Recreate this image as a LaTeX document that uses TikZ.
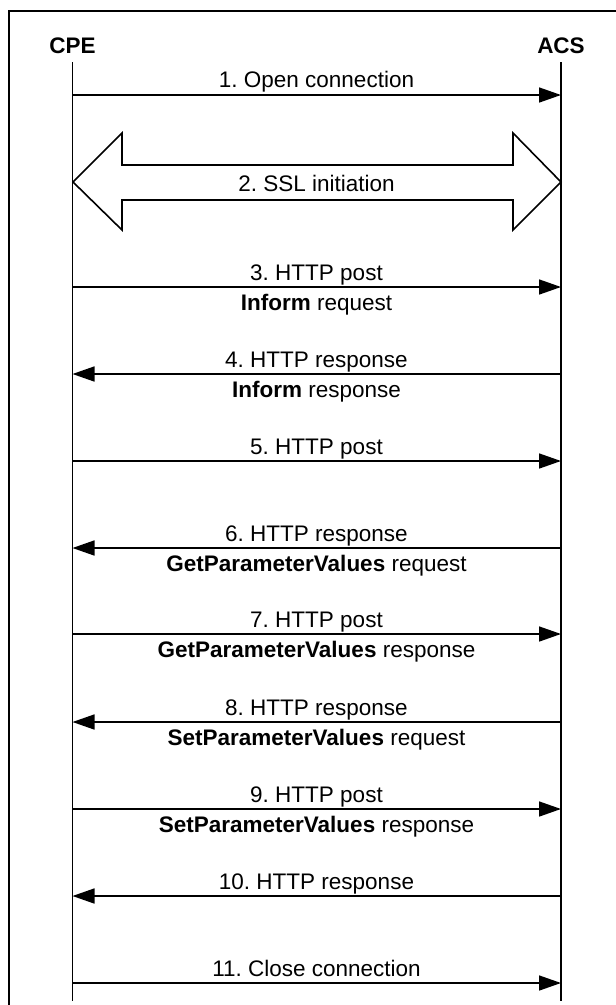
\documentclass[tikz,border=0pt]{standalone}
\usepackage{fontspec}
\setmainfont{Liberation Sans}
\usetikzlibrary{arrows.meta}
\frenchspacing
\begin{document}
\begin{tikzpicture}[x=1pt,y=-1pt,line width=1.6pt,
  lbl/.style={font=\fontsize{22.5}{25}\selectfont,inner sep=0pt,anchor=base},
  msg/.style={-{Triangle[length=22pt,width=15pt]},line width=1.6pt},
  life/.style={line width=1.6pt}]
\useasboundingbox (0,0) rectangle (616,1005);

% outer frame (top and left edges)
\draw[line width=1.8pt] (9,1010) -- (9,11) -- (620,11);

% participants and lifelines
\node[lbl] (cpe) at (72.5,53) {\textbf{CPE}};
\node[lbl] (acs) at (561,53) {\textbf{ACS}};
\coordinate (cpeTop) at (72.5,62);
\coordinate (cpeBot) at (72.5,1001);
\coordinate (acsTop) at (561,62);
\coordinate (acsBot) at (561,1001);
\draw[life] (cpeTop) -- (cpeBot);
\draw[life] (acsTop) -- (acsBot);

% message end points on the lifelines
\foreach \n/\y in {1/95,3/287,4/374,5/461,6/548,7/634,8/722,9/809,10/896,11/983}{
  \coordinate (c\n) at (72.5,\y);
  \coordinate (a\n) at (561,\y);
}

% 1
\draw[msg] (c1) -- (a1);
\node[lbl] (m1) at (316.5,87) {1. Open connection};

% 2: SSL initiation (block double arrow)
\draw[line width=1.6pt,line join=miter]
  (73,182) -- (122,133) -- (122,165) -- (513,165) -- (513,133) -- (561,182)
  -- (513,230) -- (513,200) -- (122,200) -- (122,230) -- cycle;
\node[lbl,anchor=center] (m2) at (316.5,183) {2. SSL initiation};

% 3
\draw[msg] (c3) -- (a3);
\node[lbl] (m3) at (316.5,280) {3. HTTP post};
\node[lbl] (m3b) at (316.5,310) {\textbf{Inform} request};

% 4
\draw[msg] (a4) -- (c4);
\node[lbl] (m4) at (316.5,367) {4. HTTP response};
\node[lbl] (m4b) at (316.5,397) {\textbf{Inform} response};

% 5
\draw[msg] (c5) -- (a5);
\node[lbl] (m5) at (316.5,454) {5. HTTP post};

% 6
\draw[msg] (a6) -- (c6);
\node[lbl] (m6) at (316.5,541) {6. HTTP response};
\node[lbl] (m6b) at (316.5,571) {\textbf{GetParameterValues} request};

% 7
\draw[msg] (c7) -- (a7);
\node[lbl] (m7) at (316.5,627) {7. HTTP post};
\node[lbl] (m7b) at (316.5,657) {\textbf{GetParameterValues} response};

% 8
\draw[msg] (a8) -- (c8);
\node[lbl] (m8) at (316.5,715) {8. HTTP response};
\node[lbl] (m8b) at (316.5,745) {\textbf{SetParameterValues} request};

% 9
\draw[msg] (c9) -- (a9);
\node[lbl] (m9) at (316.5,802) {9. HTTP post};
\node[lbl] (m9b) at (316.5,832) {\textbf{SetParameterValues} response};

% 10
\draw[msg] (a10) -- (c10);
\node[lbl] (m10) at (316.5,889) {10. HTTP response};

% 11
\draw[msg] (c11) -- (a11);
\node[lbl] (m11) at (316.5,976) {11. Close connection};
\end{tikzpicture}
\end{document}
